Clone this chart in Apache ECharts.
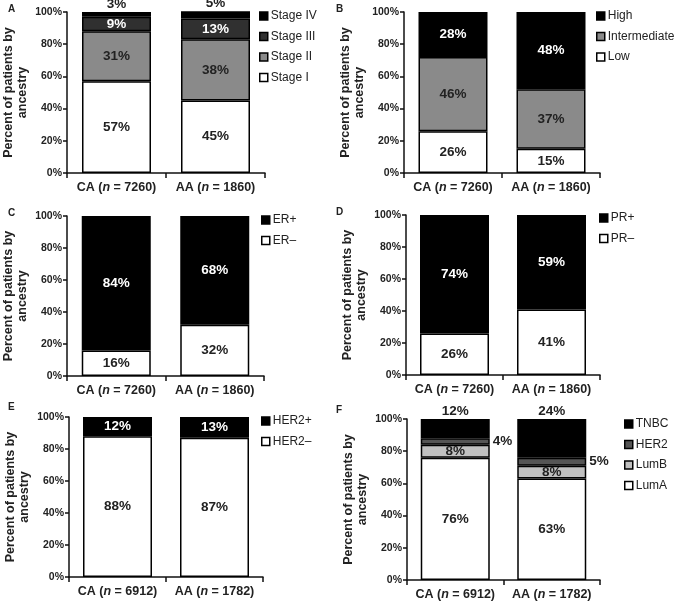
<!DOCTYPE html>
<html><head><meta charset="utf-8">
<script src="https://cdn.jsdelivr.net/npm/echarts@6/dist/echarts.min.js"></script>
<style>html,body{margin:0;padding:0;background:#fff}#c{width:675px;height:601px}</style>
</head><body><div id="c"></div>
<script>
// ---- data ----
const catsTop = ['CA (n = 7260)', 'AA (n = 1860)'];
const catsBottom = ['CA (n = 6912)', 'AA (n = 1782)'];
const yTicks = [0, 20, 40, 60, 80, 100];
const panelLetters = ['A', 'B', 'C', 'D', 'E', 'F'];
// A: stage
const stageI = [57, 45];
const stageII = [31, 38];
const stageIII = [9, 13];
const stageIV = [3, 5];
// B: grade
const gradeLow = [26, 15];
const gradeIntermediate = [46, 37];
const gradeHigh = [28, 48];
// C: ER
const erNeg = [16, 32];
const erPos = [84, 68];
// D: PR
const prNeg = [26, 41];
const prPos = [74, 59];
// E: HER2
const her2Neg = [88, 87];
const her2Pos = [12, 13];
// F: subtype
const lumA = [76, 63];
const lumB = [8, 8];
const her2Sub = [4, 5];
const tnbc = [12, 24];

// ---- layout ----
const FONT = 'Liberation Sans, Arial, sans-serif';
const grids = [
  {left: 67, top: 12, width: 198, height: 161},
  {left: 404, top: 12, width: 196, height: 161},
  {left: 67, top: 216, width: 197, height: 160},
  {left: 406, top: 215, width: 194, height: 160},
  {left: 69, top: 417, width: 194, height: 160},
  {left: 407, top: 419, width: 193, height: 164}
];
const legendPos = [
  {left: 259, top: 10}, {left: 596, top: 10},
  {left: 261, top: 214}, {left: 599, top: 212},
  {left: 261, top: 415}, {left: 624, top: 418}
];
const letterPos = [
  {left: 8, top: 4}, {left: 336, top: 4},
  {left: 8, top: 208}, {left: 336, top: 207},
  {left: 8, top: 402}, {left: 336, top: 405}
];

// series definitions per panel (bottom to top)
const panels = [
  {cats: catsTop, series: [
    {name: 'Stage I', data: stageI, color: '#ffffff', label: 'in-dark'},
    {name: 'Stage II', data: stageII, color: '#8a8a8a', label: 'in-dark'},
    {name: 'Stage III', data: stageIII, color: '#303030', label: 'in-white'},
    {name: 'Stage IV', data: stageIV, color: '#000000', label: 'top'}
  ]},
  {cats: catsTop, series: [
    {name: 'Low', data: gradeLow, color: '#ffffff', label: 'in-dark'},
    {name: 'Intermediate', data: gradeIntermediate, color: '#8a8a8a', label: 'in-dark'},
    {name: 'High', data: gradeHigh, color: '#000000', label: 'in-white'}
  ]},
  {cats: catsTop, series: [
    {name: 'ER–', data: erNeg, color: '#ffffff', label: 'in-dark'},
    {name: 'ER+', data: erPos, color: '#000000', label: 'in-white'}
  ]},
  {cats: catsTop, series: [
    {name: 'PR–', data: prNeg, color: '#ffffff', label: 'in-dark'},
    {name: 'PR+', data: prPos, color: '#000000', label: 'in-white'}
  ]},
  {cats: catsBottom, series: [
    {name: 'HER2–', data: her2Neg, color: '#ffffff', label: 'in-dark'},
    {name: 'HER2+', data: her2Pos, color: '#000000', label: 'in-white'}
  ]},
  {cats: catsBottom, series: [
    {name: 'LumA', data: lumA, color: '#ffffff', label: 'in-dark'},
    {name: 'LumB', data: lumB, color: '#c0c0c0', label: 'in-dark'},
    {name: 'HER2', data: her2Sub, color: '#555555', label: 'right'},
    {name: 'TNBC', data: tnbc, color: '#000000', label: 'top'}
  ]}
];

function catFmt(v) {
  const m = v.match(/^(\w+) \(n = (\d+)\)$/);
  return '{b|' + m[1] + ' (}{i|n}{b| = ' + m[2] + ')}';
}

const option = {
  backgroundColor: '#fff',
  animation: false,
  textStyle: {fontFamily: FONT},
  title: panelLetters.map((t, i) => ({
    text: t, left: letterPos[i].left, top: letterPos[i].top, padding: 0,
    textStyle: {fontSize: 10, fontWeight: 'bold', color: '#222', fontFamily: FONT}
  })),
  grid: grids.map(g => Object.assign({containLabel: false}, g)),
  xAxis: panels.map((p, i) => ({
    type: 'category', gridIndex: i, data: p.cats,
    axisLine: {lineStyle: {color: '#111', width: 1.5}},
    axisTick: {show: true, length: 5, lineStyle: {color: '#111', width: 1.5}},
    axisLabel: {
      interval: 0, margin: 8, formatter: catFmt, color: '#222',
      rich: {
        b: {fontSize: 12.5, fontWeight: 'bold', color: '#222', fontFamily: FONT},
        i: {fontSize: 12.5, fontWeight: 'bold', fontStyle: 'italic', color: '#222', fontFamily: FONT}
      }
    }
  })),
  yAxis: panels.map((p, i) => ({
    type: 'value', gridIndex: i, min: yTicks[0], max: yTicks[yTicks.length - 1], interval: 20,
    splitLine: {show: false},
    axisLine: {show: true, lineStyle: {color: '#111', width: 1.5}},
    axisTick: {show: true, length: 4, lineStyle: {color: '#111', width: 1.5}},
    axisLabel: {formatter: '{value}%', fontSize: 10.5, fontWeight: 'bold', color: '#222', margin: 5},
    name: 'Percent of patients by\nancestry', nameLocation: 'middle', nameGap: 37,
    nameTextStyle: {fontSize: 12.5, fontWeight: 'bold', color: '#222', lineHeight: 14, fontFamily: FONT}
  })),
  legend: panels.map((p, i) => ({
    orient: 'vertical', left: legendPos[i].left, top: legendPos[i].top, padding: 0,
    itemWidth: 8, itemHeight: 8, itemGap: 8.5, icon: 'rect', selectedMode: false,
    textStyle: {fontSize: 12, color: '#222', fontFamily: FONT, padding: [0, 0, 0, -2]},
    data: p.series.slice().reverse().map(s => ({
      name: s.name, itemStyle: {color: s.color, borderColor: '#000', borderWidth: 1.5}
    }))
  })),
  series: []
};

panels.forEach((p, i) => {
  p.series.forEach(s => {
    let label;
    if (s.label === 'in-dark') {
      label = {show: true, position: 'inside', color: '#222', fontSize: 13.5, fontWeight: 'bold', formatter: '{c}%'};
    } else if (s.label === 'in-white') {
      label = {show: true, position: 'inside', color: '#fff', fontSize: 13.5, fontWeight: 'bold', formatter: '{c}%'};
    } else if (s.label === 'top') {
      label = {show: true, position: 'top', distance: 1, color: '#222', fontSize: 13.5, fontWeight: 'bold', formatter: '{c}%'};
    } else {
      label = {show: true, position: 'right', distance: 3, color: '#222', fontSize: 13.5, fontWeight: 'bold', formatter: '{c}%'};
    }
    option.series.push({
      type: 'bar', name: s.name, stack: 'p' + i,
      xAxisIndex: i, yAxisIndex: i, data: s.data, barWidth: 69,
      itemStyle: {color: s.color, borderColor: '#000', borderWidth: 1.5},
      label: Object.assign({fontFamily: FONT}, label),
      emphasis: {disabled: true}
    });
  });
});

const chart = echarts.init(document.getElementById('c'), null, {renderer: 'canvas'});
chart.setOption(option);
</script>
</body></html>
